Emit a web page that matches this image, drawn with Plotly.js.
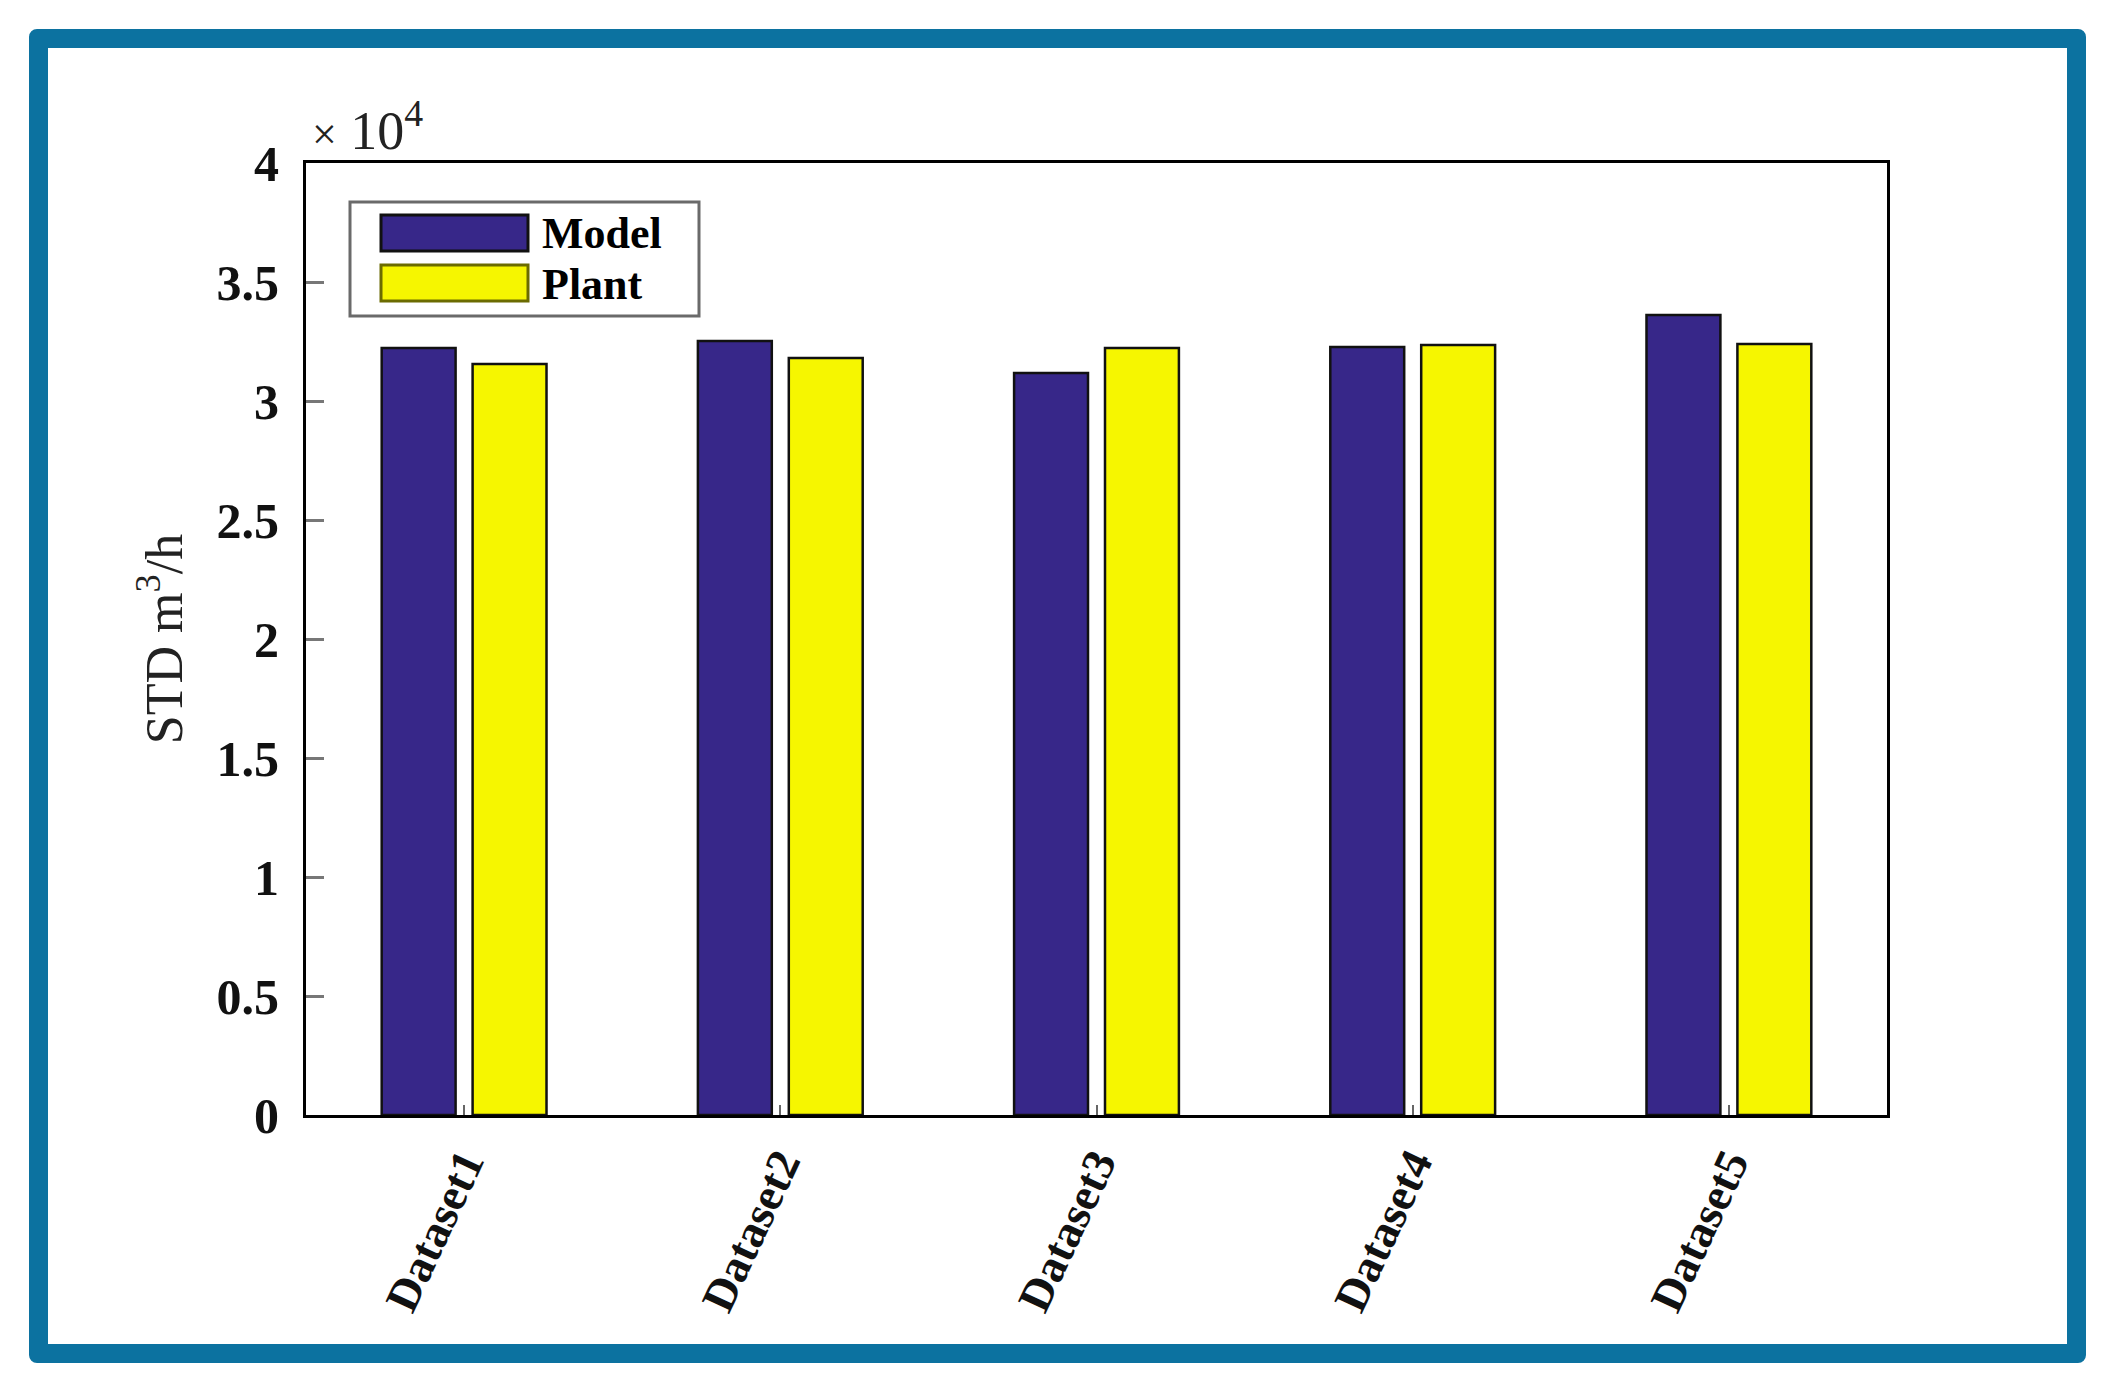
<!DOCTYPE html>
<html>
<head>
<meta charset="utf-8">
<script src="https://cdn.plot.ly/plotly-3.0.1.min.js"></script>
<style>
  html, body { margin:0; padding:0; background:#ffffff; }
  #wrap { position:relative; width:2110px; height:1388px; }
  #chart { position:absolute; left:0; top:0; width:2110px; height:1388px; }
  #frame { position:absolute; left:29px; top:29px; width:2057px; height:1334px;
           border:19px solid #0c72a0; border-radius:8px; box-sizing:border-box; pointer-events:none; }
</style>
</head>
<body>
<div id="wrap">
  <div id="chart"></div>
  <div id="frame"></div>
</div>
<script>
// ---- data ----
const categories = ['Dataset1', 'Dataset2', 'Dataset3', 'Dataset4', 'Dataset5'];
const seriesNames = ['Model', 'Plant'];
const modelValues = [32230, 32520, 31180, 32270, 33610];
const plantValues = [31550, 31810, 32230, 32350, 32390];
const yTickVals = [0, 5000, 10000, 15000, 20000, 25000, 30000, 35000, 40000];
const yTickText = ['0', '0.5', '1', '1.5', '2', '2.5', '3', '3.5', '4'];
const yTitle = 'STD m<sup>3</sup>/h';
const exponentLabel = '<span style="font-size:44px">\u00d7</span> 10<sup>4</sup>';

// ---- styles ----
const W = 2110, H = 1388;
const PL = 306, PR = 1887, PT = 163, PB = 1115;
const colors = ['#372789', '#f6f600'];
const serif = 'Liberation Serif, Times New Roman, serif';
const px = x => (x - PL) / (PR - PL);
const py = y => (PB - y) / (PB - PT);

const traces = [modelValues, plantValues].map((vals, i) => ({
  type: 'bar',
  name: seriesNames[i],
  x: categories,
  y: vals,
  marker: { color: colors[i], line: { color: '#111111', width: 2.5 } },
  showlegend: false,
  hoverinfo: 'x+y'
}));

// manual legend (big swatches like the original)
const shapes = [
  { type:'rect', xref:'paper', yref:'paper', x0:px(350), x1:px(699), y0:py(316), y1:py(202),
    line:{ color:'#6a6a6a', width:3 }, fillcolor:'#ffffff', layer:'above' }
];
const annotations = [];
const rowCenters = [233, 283];
seriesNames.forEach((nm, i) => {
  const c = rowCenters[i];
  shapes.push({ type:'rect', xref:'paper', yref:'paper', x0:px(381), x1:px(528), y0:py(c+18), y1:py(c-18),
    line:{ color: i === 0 ? '#111111' : '#6b6b00', width:3 }, fillcolor: colors[i], layer:'above' });
  annotations.push({ xref:'paper', yref:'paper', x:px(540), y:py(c+1), xanchor:'left', yanchor:'middle',
    text: nm, showarrow:false, font:{ family: serif, size:44, weight:'bold', color:'#000' } });
});
annotations.push({ xref:'paper', yref:'paper', x:0, y:1, xanchor:'left', yanchor:'bottom', xshift:4, yshift:0,
  text: exponentLabel, showarrow:false, font:{ family: serif, size:54, color:'#222' } });

const layout = {
  width: W, height: H,
  margin: { l: PL, r: W - PR, t: PT, b: H - PB, pad: 0 },
  paper_bgcolor: 'rgba(0,0,0,0)',
  plot_bgcolor: '#ffffff',
  barmode: 'group',
  bargap: 0.425,
  bargroupgap: 0.187,
  xaxis: {
    type: 'category',
    range: [-0.5, 4.5],
    showline: true, linecolor: '#000', linewidth: 3, mirror: true,
    ticks: 'inside', ticklen: 10, tickwidth: 2, tickcolor: '#666',
    tickangle: -65,
    tickfont: { family: serif, size: 46, weight: 'bold', color: '#111' },
    showgrid: false, zeroline: false, automargin: false
  },
  yaxis: {
    range: [0, 40000],
    tickvals: yTickVals, ticktext: yTickText,
    showline: true, linecolor: '#000', linewidth: 3, mirror: true,
    ticks: 'inside', ticklen: 18, tickwidth: 3, tickcolor: '#777',
    tickfont: { family: serif, size: 50, weight: 'bold', color: '#111' },
    ticklabelstandoff: 14,
    showgrid: false, zeroline: false, automargin: false,
    title: { text: yTitle, font: { family: serif, size: 52, color: '#222' }, standoff: 18 }
  },
  shapes: shapes,
  annotations: annotations
};

Plotly.newPlot('chart', traces, layout, { staticPlot: true, displayModeBar: false });
</script>
</body>
</html>
